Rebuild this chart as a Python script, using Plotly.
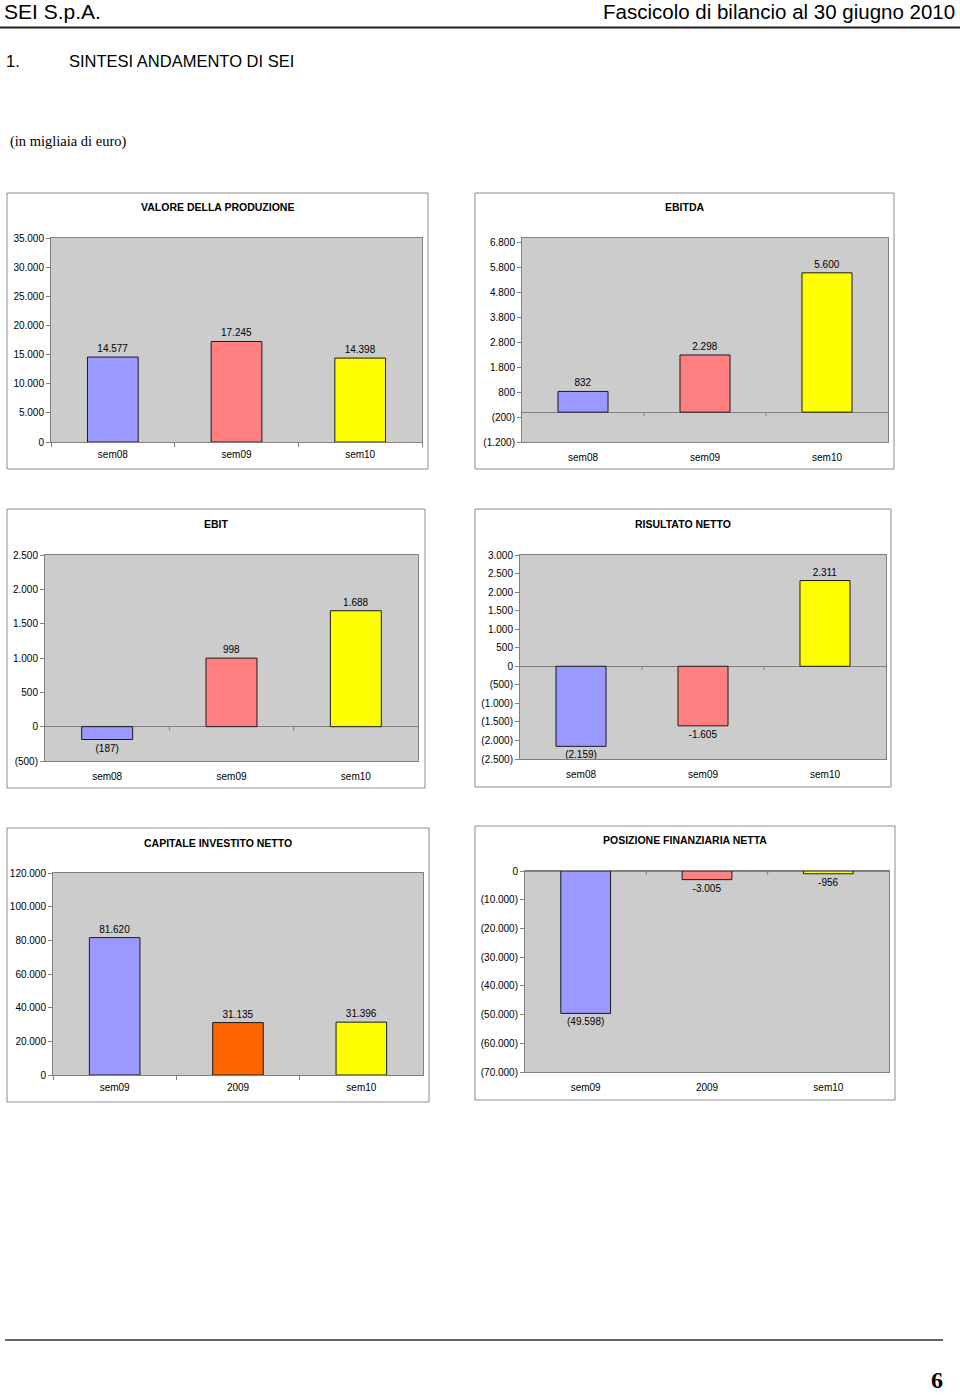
import plotly.graph_objects as go

W, H = 960, 1395

# ---------------- data ----------------
cats_sem = ["sem08", "sem09", "sem10"]
cats_cap = ["sem09", "2009", "sem10"]

valore_produzione = [14577, 17245, 14398]
valore_labels = ["14.577", "17.245", "14.398"]

ebitda = [832, 2298, 5600]
ebitda_labels = ["832", "2.298", "5.600"]

ebit = [-187, 998, 1688]
ebit_labels = ["(187)", "998", "1.688"]

risultato_netto = [-2159, -1605, 2311]
risultato_labels = ["(2.159)", "-1.605", "2.311"]

capitale_investito = [81620, 31135, 31396]
capitale_labels = ["81.620", "31.135", "31.396"]

posizione_finanziaria = [-49598, -3005, -956]
posizione_labels = ["(49.598)", "-3.005", "-956"]

ticks_valore = [0, 5000, 10000, 15000, 20000, 25000, 30000, 35000]
ticktext_valore = ["0", "5.000", "10.000", "15.000", "20.000", "25.000", "30.000", "35.000"]

ticks_ebitda = [-1200, -200, 800, 1800, 2800, 3800, 4800, 5800, 6800]
ticktext_ebitda = ["(1.200)", "(200)", "800", "1.800", "2.800", "3.800", "4.800", "5.800", "6.800"]

ticks_ebit = [-500, 0, 500, 1000, 1500, 2000, 2500]
ticktext_ebit = ["(500)", "0", "500", "1.000", "1.500", "2.000", "2.500"]

ticks_risultato = [-2500, -2000, -1500, -1000, -500, 0, 500, 1000, 1500, 2000, 2500, 3000]
ticktext_risultato = ["(2.500)", "(2.000)", "(1.500)", "(1.000)", "(500)", "0", "500",
                      "1.000", "1.500", "2.000", "2.500", "3.000"]

ticks_capitale = [0, 20000, 40000, 60000, 80000, 100000, 120000]
ticktext_capitale = ["0", "20.000", "40.000", "60.000", "80.000", "100.000", "120.000"]

ticks_posizione = [-70000, -60000, -50000, -40000, -30000, -20000, -10000, 0]
ticktext_posizione = ["(70.000)", "(60.000)", "(50.000)", "(40.000)", "(30.000)",
                      "(20.000)", "(10.000)", "0"]

colors_sem = ["#9999FF", "#FF8080", "#FFFF00"]
colors_cap = ["#9999FF", "#FF6600", "#FFFF00"]
colors_pos = ["#9999FF", "#FF8080", "#FFFF00"]

# ---------------- layout helpers ----------------
def xp(px):
    return px / W

def yp(py):
    return 1 - py / H

SANS = "Liberation Sans, Arial, sans-serif"
SERIF = "Liberation Serif, Times New Roman, serif"

charts = [
    dict(title="VALORE DELLA PRODUZIONE", cats=cats_sem, vals=valore_produzione, labels=valore_labels,
         colors=colors_sem, tv=ticks_valore, tt=ticktext_valore, rng=[0, 35000],
         plot=(51, 422, 238, 442), box=(7, 428, 193, 469), ty=207, zero_ticks=False),
    dict(title="EBITDA", cats=cats_sem, vals=ebitda, labels=ebitda_labels,
         colors=colors_sem, tv=ticks_ebitda, tt=ticktext_ebitda, rng=[-1200, 7000],
         plot=(522, 888, 238, 442), box=(475, 894, 193, 469), ty=207, zero_ticks=True),
    dict(title="EBIT", cats=cats_sem, vals=ebit, labels=ebit_labels,
         colors=colors_sem, tv=ticks_ebit, tt=ticktext_ebit, rng=[-500, 2500],
         plot=(45, 418, 555, 761), box=(7, 425, 509, 788), ty=524, zero_ticks=True),
    dict(title="RISULTATO NETTO", cats=cats_sem, vals=risultato_netto, labels=risultato_labels,
         colors=colors_sem, tv=ticks_risultato, tt=ticktext_risultato, rng=[-2500, 3000],
         plot=(520, 886, 555, 759), box=(475, 891, 509, 787), ty=524, zero_ticks=True),
    dict(title="CAPITALE INVESTITO NETTO", cats=cats_cap, vals=capitale_investito, labels=capitale_labels,
         colors=colors_cap, tv=ticks_capitale, tt=ticktext_capitale, rng=[0, 120000],
         plot=(53, 423, 873, 1075), box=(7, 429, 828, 1102), ty=843, zero_ticks=False),
    dict(title="POSIZIONE FINANZIARIA NETTA", cats=cats_cap, vals=posizione_finanziaria, labels=posizione_labels,
         colors=colors_pos, tv=ticks_posizione, tt=ticktext_posizione, rng=[-70000, 0],
         plot=(525, 889, 871, 1072), box=(475, 895, 826, 1100), ty=840, zero_ticks=True),
]

fig = go.Figure()
shapes = []
annotations = []
layout_axes = {}

for i, c in enumerate(charts, start=1):
    xa = "x" if i == 1 else f"x{i}"
    ya = "y" if i == 1 else f"y{i}"
    xkey = "xaxis" if i == 1 else f"xaxis{i}"
    ykey = "yaxis" if i == 1 else f"yaxis{i}"
    x0, x1, y0, y1 = c["plot"]

    fig.add_trace(go.Bar(
        x=c["cats"], y=c["vals"], text=c["labels"], textposition="outside",
        textfont=dict(family=SANS, size=10, color="#000000"),
        constraintext="none", cliponaxis=False,
        marker=dict(color=c["colors"], line=dict(color="#1a1a1a", width=1)),
        width=0.41, xaxis=xa, yaxis=ya, showlegend=False, hoverinfo="skip",
    ))

    layout_axes[xkey] = dict(
        domain=[xp(x0), xp(x1)], anchor=ya, type="category", automargin=False,
        showline=True, mirror=True, linecolor="#808080", linewidth=1,
        showgrid=False, zeroline=False, fixedrange=True,
        ticks="" if c["zero_ticks"] else "outside", tickson="boundaries",
        ticklen=4, tickcolor="#808080",
        ticklabelstandoff=6 if c["zero_ticks"] else 3,
        tickfont=dict(family=SANS, size=10, color="#000000"),
    )
    layout_axes[ykey] = dict(
        domain=[yp(y1), yp(y0)], anchor=xa, range=c["rng"], automargin=False,
        tickmode="array", tickvals=c["tv"], ticktext=c["tt"],
        showline=True, mirror=True, linecolor="#808080", linewidth=1,
        showgrid=False, zeroline=True, zerolinecolor="#808080", zerolinewidth=1,
        ticks="outside", ticklen=4, tickcolor="#808080", fixedrange=True,
        tickfont=dict(family=SANS, size=10, color="#000000"),
    )

    bx0, bx1, by0, by1 = c["box"]
    shapes.append(dict(type="rect", xref="paper", yref="paper",
                       x0=xp(bx0), x1=xp(bx1), y0=yp(by1), y1=yp(by0),
                       line=dict(color="#8c8c8c", width=1),
                       fillcolor="rgba(0,0,0,0)", layer="below"))
    annotations.append(dict(text=f"<b>{c['title']}</b>", xref="paper", yref="paper",
                            x=xp((bx0 + bx1) / 2), y=yp(c["ty"]), xanchor="center", yanchor="middle",
                            showarrow=False, font=dict(family=SANS, size=10.5, color="#000000")))

    if c["zero_ticks"]:
        for b in [0.5, 1.5]:
            shapes.append(dict(type="line", xref=xa, yref=ya, x0=b, x1=b,
                               ysizemode="pixel", yanchor=0, y0=0, y1=-4,
                               line=dict(color="#808080", width=1)))

# ---------------- page decorations ----------------
annotations += [
    dict(text="SEI S.p.A.", xref="paper", yref="paper", x=xp(2), y=yp(12),
         xanchor="left", yanchor="middle", showarrow=False,
         font=dict(family=SANS, size=21, color="#000000")),
    dict(text="Fascicolo di bilancio al 30 giugno 2010", xref="paper", yref="paper",
         x=xp(957), y=yp(12), xanchor="right", yanchor="middle", showarrow=False,
         font=dict(family=SANS, size=20.5, color="#000000")),
    dict(text="1.", xref="paper", yref="paper", x=xp(4), y=yp(61),
         xanchor="left", yanchor="middle", showarrow=False,
         font=dict(family=SANS, size=16.5, color="#000000")),
    dict(text="SINTESI ANDAMENTO DI SEI", xref="paper", yref="paper", x=xp(67), y=yp(61),
         xanchor="left", yanchor="middle", showarrow=False,
         font=dict(family=SANS, size=16.5, color="#000000")),
    dict(text="(in migliaia di euro)", xref="paper", yref="paper", x=xp(8), y=yp(142),
         xanchor="left", yanchor="middle", showarrow=False,
         font=dict(family=SERIF, size=14.5, color="#000000")),
    dict(text="<b>6</b>", xref="paper", yref="paper", x=xp(945), y=yp(1380),
         xanchor="right", yanchor="middle", showarrow=False,
         font=dict(family=SERIF, size=24, color="#000000")),
]

shapes += [
    dict(type="line", xref="paper", yref="paper", x0=0, x1=1, y0=yp(27.5), y1=yp(27.5),
         line=dict(color="#222222", width=2)),
    dict(type="line", xref="paper", yref="paper", x0=xp(5), x1=xp(943), y0=yp(1340), y1=yp(1340),
         line=dict(color="#333333", width=1.5)),
]

fig.update_layout(
    width=W, height=H, autosize=False,
    margin=dict(l=0, r=0, t=0, b=0, pad=0, autoexpand=False),
    paper_bgcolor="#FFFFFF", plot_bgcolor="#CCCCCC",
    shapes=shapes, annotations=annotations,
    bargap=0.59, showlegend=False,
    **layout_axes,
)

fig.write_html(
    "out.html",
    config={"displayModeBar": False},
    post_script="document.body.style.margin='0';document.body.style.overflow='hidden';",
)
